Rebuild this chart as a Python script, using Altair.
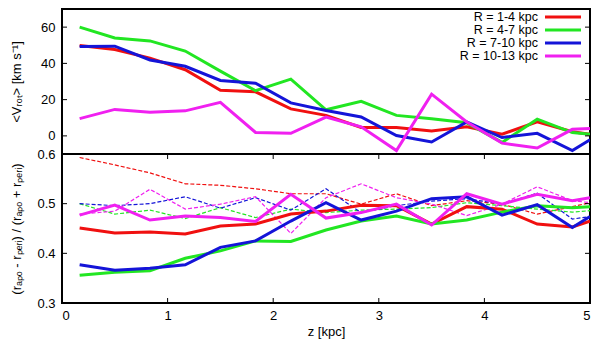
import altair as alt
import pandas as pd

# ---- data ----
z = [0.167, 0.5, 0.833, 1.167, 1.5, 1.833, 2.167, 2.5, 2.833, 3.167, 3.5, 3.833, 4.167, 4.5, 4.833, 5.0]
series = ["R = 1-4 kpc", "R = 4-7 kpc", "R = 7-10 kpc", "R = 10-13 kpc"]
colors = ["#f01010", "#22e622", "#1414d8", "#f020f0"]

vrot_r1 = [49.9, 47.7, 42.9, 36.5, 25.2, 24.3, 14.9, 11.3, 4.6, 4.6, 2.7, 5.0, 0.9, 7.7, 2.3, 0.9]
vrot_r2 = [60.0, 54.0, 52.4, 46.8, 35.7, 24.9, 31.3, 14.4, 19.1, 11.3, 9.5, 7.2, -3.6, 9.2, 1.8, 0.9]
vrot_r3 = [49.3, 49.5, 41.9, 38.4, 30.6, 29.0, 18.2, 14.0, 10.4, 0.2, -3.4, 7.7, -0.9, 1.4, -8.1, -2.2]
vrot_r4 = [9.5, 14.6, 13.1, 13.8, 18.5, 1.9, 1.4, 10.4, 5.0, -8.1, 23.0, 7.7, -4.0, -6.7, 3.6, 4.1]

ecc_r1 = [0.451, 0.441, 0.443, 0.439, 0.455, 0.459, 0.479, 0.485, 0.497, 0.496, 0.459, 0.494, 0.489, 0.459, 0.453, 0.465]
ecc_r2 = [0.356, 0.362, 0.365, 0.390, 0.405, 0.425, 0.424, 0.447, 0.465, 0.475, 0.459, 0.467, 0.483, 0.496, 0.492, 0.494]
ecc_r3 = [0.377, 0.366, 0.370, 0.377, 0.412, 0.425, 0.465, 0.502, 0.467, 0.485, 0.510, 0.514, 0.477, 0.498, 0.452, 0.474]
ecc_r4 = [0.477, 0.497, 0.467, 0.475, 0.472, 0.464, 0.519, 0.471, 0.482, 0.499, 0.457, 0.520, 0.499, 0.519, 0.506, 0.512]

eccd_r1 = [0.593, 0.578, 0.562, 0.540, 0.537, 0.530, 0.520, 0.520, 0.499, 0.520, 0.496, 0.506, 0.499, 0.479, 0.494, 0.502]
eccd_r2 = [0.500, 0.479, 0.487, 0.470, 0.492, 0.472, 0.489, 0.482, 0.487, 0.489, 0.492, 0.502, 0.496, 0.489, 0.483, 0.486]
eccd_r3 = [0.500, 0.496, 0.500, 0.514, 0.491, 0.512, 0.487, 0.530, 0.482, 0.496, 0.505, 0.510, 0.499, 0.521, 0.469, 0.474]
eccd_r4 = [0.479, 0.485, 0.529, 0.489, 0.499, 0.514, 0.440, 0.512, 0.540, 0.512, 0.499, 0.476, 0.499, 0.534, 0.506, 0.502]

x_ticks = [0, 1, 2, 3, 4, 5]
top_y_ticks = [0, 20, 40, 60]
bot_y_ticks = [0.3, 0.4, 0.5, 0.6]


def long(vals_list):
    rows = []
    for s, vals in zip(series, vals_list):
        for zz, v in zip(z, vals):
            rows.append({"z": zz, "v": v, "series": s})
    return pd.DataFrame(rows)


top_df = long([vrot_r1, vrot_r2, vrot_r3, vrot_r4])
sol_df = long([ecc_r1, ecc_r2, ecc_r3, ecc_r4])
dash_df = long([eccd_r1, eccd_r2, eccd_r3, eccd_r4])
leg_df = pd.DataFrame({"series": series, "i": list(range(len(series)))})

W = 528
H_TOP = 145
H_BOT = 149
FONT = "Liberation Sans"

color = alt.Color("series:N", scale=alt.Scale(domain=series, range=colors), legend=None)
xs = alt.Scale(domain=[0, 5], nice=False, zero=False)
ys_top = alt.Scale(domain=[-10, 70], nice=False, zero=False)
ys_bot = alt.Scale(domain=[0.3, 0.6], nice=False, zero=False)

TL = 5  # inner tick length

# ---------- top panel ----------
top_lines = alt.Chart(top_df).mark_line(strokeWidth=3, clip=True).encode(
    x=alt.X("z:Q", scale=xs, axis=None),
    y=alt.Y("v:Q", scale=ys_top,
            axis=alt.Axis(values=top_y_ticks, title="<Vᵣₒₜ> [km s⁻¹]",
                          labelPadding=7, minExtent=30, maxExtent=30, titlePadding=9)),
    color=color,
    detail="series:N",
)

top_ticks_df = pd.DataFrame({"t": top_y_ticks})
top_tick_l = alt.Chart(top_ticks_df).mark_rule(color="black", strokeWidth=1).encode(
    y=alt.Y("t:Q", scale=ys_top), x=alt.value(0), x2=alt.value(TL))
top_tick_r = alt.Chart(top_ticks_df).mark_rule(color="black", strokeWidth=1).encode(
    y=alt.Y("t:Q", scale=ys_top), x=alt.value(W - TL), x2=alt.value(W))

leg_text = alt.Chart(leg_df).transform_calculate(ly="8 + 13*datum.i").mark_text(
    align="right", baseline="middle", font=FONT, fontSize=12.5, color="black"
).encode(x=alt.value(476), y=alt.Y("ly:Q", scale=None), text="series:N")
leg_line = alt.Chart(leg_df).transform_calculate(ly="8 + 13*datum.i").mark_rule(strokeWidth=3).encode(
    x=alt.value(483), x2=alt.value(519), y=alt.Y("ly:Q", scale=None), color=color)

top = alt.layer(top_lines, top_tick_l, top_tick_r, leg_text, leg_line).properties(width=W, height=H_TOP)

# ---------- bottom panel ----------
bot_sol = alt.Chart(sol_df).mark_line(strokeWidth=3, clip=True).encode(
    x=alt.X("z:Q", scale=xs,
            axis=alt.Axis(values=x_ticks, format="d", title="z [kpc]", labelPadding=6, titlePadding=3)),
    y=alt.Y("v:Q", scale=ys_bot,
            axis=alt.Axis(values=bot_y_ticks, format=".1f",
                          title="(rₐₚₒ - rₚₑᵣᵢ) / (rₐₚₒ + rₚₑᵣᵢ)",
                          labelPadding=7, minExtent=30, maxExtent=30, titlePadding=9)),
    color=color,
    detail="series:N",
)
bot_dash = alt.Chart(dash_df).mark_line(strokeWidth=1.2, strokeDash=[4, 2], clip=True).encode(
    x=alt.X("z:Q", scale=xs), y=alt.Y("v:Q", scale=ys_bot), color=color, detail="series:N")

bx_df = pd.DataFrame({"t": x_ticks[1:-1]})
by_df = pd.DataFrame({"t": bot_y_ticks[1:-1]})
bt_bottom = alt.Chart(bx_df).mark_rule(color="black").encode(
    x=alt.X("t:Q", scale=xs), y=alt.value(H_BOT - TL), y2=alt.value(H_BOT))
bt_top = alt.Chart(bx_df).mark_rule(color="black").encode(
    x=alt.X("t:Q", scale=xs), y=alt.value(0), y2=alt.value(TL))
bt_left = alt.Chart(by_df).mark_rule(color="black").encode(
    y=alt.Y("t:Q", scale=ys_bot), x=alt.value(0), x2=alt.value(TL))
bt_right = alt.Chart(by_df).mark_rule(color="black").encode(
    y=alt.Y("t:Q", scale=ys_bot), x=alt.value(W - TL), x2=alt.value(W))

bottom = alt.layer(bot_dash, bot_sol, bt_bottom, bt_top, bt_left, bt_right).properties(width=W, height=H_BOT)

chart = alt.vconcat(top, bottom, spacing=0, bounds="flush").properties(
    padding={"left": 0, "top": 0, "right": 0, "bottom": 0},
    background="white",
).configure_view(
    stroke="black", strokeWidth=2
).configure_axis(
    domain=False, ticks=False, grid=False,
    labelFont=FONT, labelFontSize=13, labelColor="black",
    titleFont=FONT, titleFontSize=13, titleFontWeight="normal", titleColor="black",
)

chart.save("out.html", embed_options={"renderer": "svg", "actions": False})
